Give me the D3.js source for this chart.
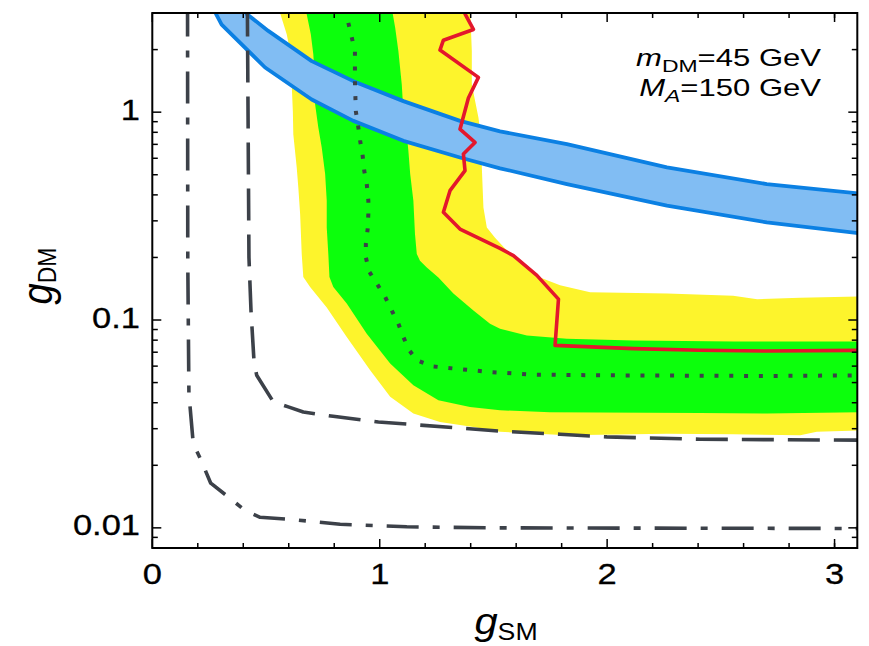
<!DOCTYPE html>
<html>
<head>
<meta charset="utf-8">
<script src="https://cdn.jsdelivr.net/npm/d3@7"></script>
<style>
  body { margin: 0; background: #fff; }
  svg { display: block; }
  text { font-family: "Liberation Sans", Arial, Helvetica, sans-serif; fill: #000; }
</style>
</head>
<body>
<svg id="chart" width="869" height="646"></svg>
<script>
// ---- axes ----
const gsmDomain = [0, 3.1];
const gdmDomain = [0.008, 3];
const xMajorTicks = [0, 1, 2, 3];
const xTickLabels = ["0", "1", "2", "3"];
const xMinorTicks = [0.2, 0.4, 0.6, 0.8, 1.2, 1.4, 1.6, 1.8, 2.2, 2.4, 2.6, 2.8, 3.0];
const yMajorTicks = [0.01, 0.1, 1];
const yTickLabels = ["0.01", "0.1", "1"];
const yMinorTicks = [0.009, 0.02, 0.03, 0.04, 0.05, 0.06, 0.07, 0.08, 0.09,
                     0.2, 0.3, 0.4, 0.5, 0.6, 0.7, 0.8, 0.9, 2, 3];

// ---- expected limit, +-2 sigma band: [g_SM, g_DM] ----
const band2Lower = [[0.55,3.3],[0.591,2.37],[0.606,1.97],[0.613,1.36],[0.618,1.01],[0.620,0.784],
  [0.635,0.542],[0.642,0.435],[0.650,0.324],[0.657,0.208],[0.664,0.161],[0.694,0.144],[0.767,0.115],
  [0.855,0.0828],[0.958,0.0573],[1.046,0.0427],[1.148,0.0355],[1.265,0.0323],[1.412,0.0306],
  [1.529,0.0290],[1.823,0.0279],[2.263,0.0284],[2.556,0.0282],[2.849,0.0279],[2.922,0.0290],[3.15,0.0295]];
const band2Upper = [[1.397,3.3],[1.405,1.97],[1.405,1.36],[1.434,0.942],[1.449,0.702],[1.449,0.542],
  [1.456,0.348],[1.471,0.279],[1.507,0.249],[1.551,0.221],[1.617,0.189],[1.705,0.160],[1.793,0.147],
  [1.925,0.136],[2.264,0.134],[2.554,0.131],[2.660,0.126],[2.849,0.128],[3.15,0.130]];

// ---- expected limit, +-1 sigma band ----
const band1Lower = [[0.67,3.3],[0.697,2.37],[0.708,1.90],[0.716,1.36],[0.716,1.09],[0.730,0.844],
  [0.745,0.676],[0.760,0.504],[0.767,0.375],[0.767,0.279],[0.774,0.208],[0.779,0.161],[0.796,0.144],
  [0.855,0.120],[0.943,0.0859],[1.046,0.0617],[1.148,0.0485],[1.258,0.0411],[1.397,0.0382],
  [1.529,0.0368],[1.749,0.0360],[2.409,0.0357],[2.702,0.0355],[3.15,0.0361]];
const band1Upper = [[1.05,3.3],[1.068,2.55],[1.082,1.97],[1.097,1.36],[1.104,1.01],[1.119,0.784],
  [1.126,0.652],[1.134,0.504],[1.148,0.375],[1.155,0.260],[1.163,0.208],[1.177,0.193],[1.207,0.179],
  [1.258,0.160],[1.324,0.134],[1.412,0.111],[1.485,0.0960],[1.529,0.0908],[1.647,0.0843],
  [1.823,0.0813],[2.116,0.0798],[2.556,0.0789],[3.15,0.0789]];

// ---- median expected limit (dotted) ----
const expectedMedian = [[0.862,2.69],[0.891,1.97],[0.891,1.41],[0.895,1.01],[0.906,0.844],[0.914,0.728],
  [0.925,0.617],[0.932,0.522],[0.943,0.451],[0.950,0.375],[0.950,0.324],[0.947,0.274],[0.939,0.232],
  [0.939,0.200],[0.955,0.170],[0.990,0.148],[1.024,0.129],[1.053,0.111],[1.082,0.0960],[1.104,0.0828],
  [1.130,0.0715],[1.163,0.0640],[1.229,0.0599],[1.361,0.0579],[1.485,0.0562],[1.675,0.0546],
  [1.969,0.0542],[2.702,0.0538],[3.15,0.0542]];

// ---- projected sensitivities (dashed, dash-dotted) ----
const projectionDashed = [[0.418,3.3],[0.425,0.200],[0.434,0.111],[0.447,0.0640],[0.459,0.0542],
  [0.532,0.0404],[0.598,0.0382],[0.664,0.0361],[0.795,0.0344],[0.994,0.0323],[1.339,0.0303],
  [1.529,0.0292],[1.793,0.0282],[1.999,0.0274],[2.409,0.0267],[3.15,0.0264]];
const projectionDashDot = [[0.155,3.3],[0.156,0.193],[0.161,0.0443],[0.180,0.0255],[0.214,0.0212],
  [0.257,0.0164],[0.342,0.01387],[0.408,0.01210],[0.474,0.01124],[0.606,0.01099],[0.826,0.01040],
  [1.119,0.01012],[1.485,0.0100],[3.15,0.00993]];

// ---- observed limit (red) ----
const observedLimit = [[1.37,3.3],[1.375,2.97],[1.412,2.50],[1.280,2.22],[1.265,1.99],[1.434,1.47],
  [1.390,1.17],[1.353,0.828],[1.419,0.715],[1.368,0.629],[1.375,0.523],[1.309,0.419],[1.280,0.330],
  [1.353,0.274],[1.529,0.221],[1.588,0.204],[1.691,0.164],[1.786,0.126],[1.771,0.0755],[2.116,0.0728],
  [2.409,0.0715],[2.702,0.0709],[3.15,0.0715]];

// ---- relic density band (blue) ----
const relicUpper = [[0.40,3.3],[0.415,2.97],[0.510,2.46],[0.701,1.76],[0.884,1.41],[1.104,1.13],
  [1.353,0.908],[1.529,0.809],[1.823,0.702],[2.263,0.542],[2.702,0.451],[3.15,0.402]];
const relicLower = [[0.27,3.3],[0.280,2.97],[0.305,2.64],[0.496,1.64],[0.701,1.15],[0.884,0.908],
  [1.104,0.728],[1.353,0.605],[1.529,0.537],[1.823,0.451],[2.263,0.355],[2.702,0.295],[3.15,0.258]];

// ---- layout ----
const svg = d3.select("#chart");
const plot = { left: 152.3, right: 857.3, top: 13, bottom: 548 };
const x = d3.scaleLinear().domain(gsmDomain).range([plot.left, plot.right]);
const y = d3.scaleLog().domain(gdmDomain).range([plot.bottom, plot.top]);

const colors = {
  yellow: "#fdf42c", green: "#0cff0c", blueFill: "#81bdf3", blueLine: "#0b80e3",
  red: "#e3172c", gray: "#3c4149"
};

svg.append("defs").append("clipPath").attr("id", "plot-clip")
  .append("rect")
  .attr("x", plot.left).attr("y", plot.top)
  .attr("width", plot.right - plot.left).attr("height", plot.bottom - plot.top);

const layer = svg.append("g").attr("clip-path", "url(#plot-clip)");
const line = d3.line().x(d => x(d[0])).y(d => y(d[1]));

// closed region between a lower edge and an upper edge
function band(lower, upper, fill) {
  layer.append("path")
    .attr("d", line(lower.concat(upper.slice().reverse())) + "Z")
    .attr("fill", fill)
    .attr("stroke", "none");
}

band(band2Lower, band2Upper, colors.yellow);
band(band1Lower, band1Upper, colors.green);

// relic band: filled, edges stroked
band(relicLower, relicUpper, colors.blueFill);
[relicUpper, relicLower].forEach(edge => {
  layer.append("path").attr("d", line(edge))
    .attr("fill", "none").attr("stroke", colors.blueLine)
    .attr("stroke-width", 3.8).attr("stroke-linejoin", "round");
});

function curve(data, color, width, dash) {
  layer.append("path").attr("d", line(data))
    .attr("fill", "none").attr("stroke", color)
    .attr("stroke-width", width)
    .attr("stroke-dasharray", dash)
    .attr("stroke-linejoin", "round");
}

curve(expectedMedian, colors.gray, 4, "4,10.8");
curve(projectionDashed, colors.gray, 3.6, "32,14");
curve(projectionDashDot, colors.gray, 3.6, "32,14,7,14");
curve(observedLimit, colors.red, 3.6, null);

// ---- frame and ticks ----
const axes = svg.append("g").attr("stroke", "#000").attr("fill", "none");
axes.append("rect")
  .attr("x", plot.left).attr("y", plot.top)
  .attr("width", plot.right - plot.left).attr("height", plot.bottom - plot.top)
  .attr("stroke-width", 2);

function xTick(v, len) {
  axes.append("line").attr("x1", x(v)).attr("x2", x(v))
    .attr("y1", plot.bottom).attr("y2", plot.bottom - len).attr("stroke-width", 1.5);
  axes.append("line").attr("x1", x(v)).attr("x2", x(v))
    .attr("y1", plot.top).attr("y2", plot.top + len).attr("stroke-width", 1.5);
}
function yTick(v, len) {
  axes.append("line").attr("x1", plot.left).attr("x2", plot.left + len)
    .attr("y1", y(v)).attr("y2", y(v)).attr("stroke-width", 1.5);
  axes.append("line").attr("x1", plot.right).attr("x2", plot.right - len)
    .attr("y1", y(v)).attr("y2", y(v)).attr("stroke-width", 1.5);
}
xMajorTicks.forEach(v => xTick(v, 9));
xMinorTicks.forEach(v => xTick(v, 5));
yMajorTicks.forEach(v => yTick(v, 9));
yMinorTicks.forEach(v => yTick(v, 5.5));

// ---- text (slightly widened glyphs) ----
function textAt(px, py, sx, rot) {
  const g = svg.append("g")
    .attr("transform", `translate(${px},${py}) scale(${sx},1)` + (rot ? ` rotate(${rot})` : ""));
  return g.append("text");
}

xMajorTicks.forEach((v, i) => {
  textAt(x(v), 584, 1.15).attr("text-anchor", "middle")
    .attr("font-size", 30).attr("stroke", "#000").attr("stroke-width", 0.3)
    .text(xTickLabels[i]);
});
yMajorTicks.forEach((v, i) => {
  textAt(140, y(v) + 7.5, 1.15).attr("text-anchor", "end")
    .attr("font-size", 30).attr("stroke", "#000").attr("stroke-width", 0.3)
    .text(yTickLabels[i]);
});

// axis titles
const xt = textAt(506, 634, 1.16).attr("text-anchor", "middle");
xt.append("tspan").attr("font-size", 36).attr("font-style", "italic").text("g");
xt.append("tspan").attr("font-size", 23).attr("dy", 6).text("SM");

const yt = textAt(52, 276, 1.1, -90).attr("text-anchor", "middle");
yt.append("tspan").attr("font-size", 38).attr("font-style", "italic").text("g");
yt.append("tspan").attr("font-size", 23).attr("dy", 4).text("DM");

// benchmark annotation
const a1 = textAt(821, 65.5, 1.35).attr("text-anchor", "end").attr("font-size", 23);
a1.append("tspan").attr("font-style", "italic").text("m");
a1.append("tspan").attr("font-size", 17).attr("dy", 6).text("DM");
a1.append("tspan").attr("dy", -6).text("=45 GeV");

const a2 = textAt(821, 96, 1.35).attr("text-anchor", "end").attr("font-size", 23);
a2.append("tspan").attr("font-style", "italic").text("M");
a2.append("tspan").attr("font-size", 17).attr("font-style", "italic").attr("dy", 6).text("A");
a2.append("tspan").attr("dy", -6).text("=150 GeV");
</script>
</body>
</html>
